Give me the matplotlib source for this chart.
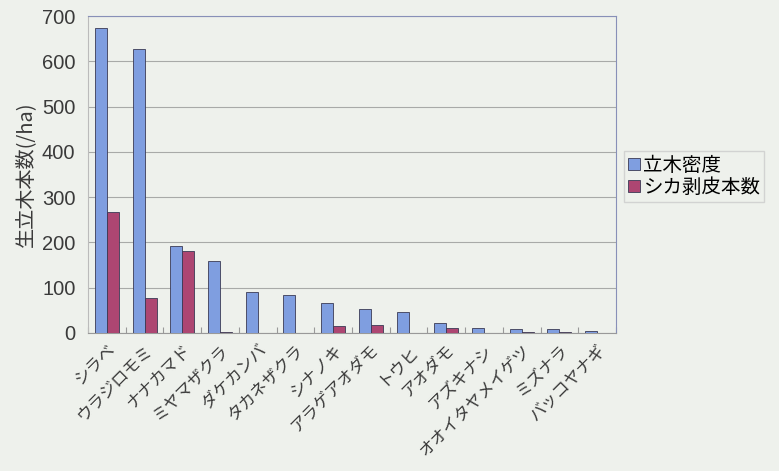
import matplotlib
matplotlib.use("Agg")
import matplotlib.pyplot as plt
import numpy as np

plt.rcParams['font.family'] = ['Noto Sans CJK JP', 'DejaVu Sans']

species = ["シラベ", "ウラジロモミ", "ナナカマド", "ミヤマザクラ", "ダケカンバ", "タカネザクラ",
           "シナノキ", "アラゲアオダモ", "トウヒ", "アオダモ", "アズキナシ", "オオイタヤメイゲツ",
           "ミズナラ", "バッコヤナギ"]
density = [674, 627, 192, 160, 91, 84, 66, 52, 47, 23, 10, 9, 8, 5]
debarked = [268, 78, 181, 2, 1, 0, 15, 17, 1, 10, 1, 3, 2, 1]
series_names = ["立木密度", "シカ剥皮本数"]
yticks = [0, 100, 200, 300, 400, 500, 600, 700]

bg = "#eef1ec"
fig = plt.figure(figsize=(7.79, 4.71), dpi=100, facecolor=bg)
ax = fig.add_axes([88/779, 1-333/471, (616-88)/779, (333-16)/471])
ax.set_facecolor(bg)

x = np.arange(len(species))
w = 0.32
ax.bar(x - w/2, density, w, color="#7f9ee0", edgecolor="#3a3a55", linewidth=0.6, label=series_names[0], zorder=3)
ax.bar(x + w/2, debarked, w, color="#ad4672", edgecolor="#3a3a55", linewidth=0.6, label=series_names[1], zorder=3)

ax.set_xlim(-0.5, len(species) - 0.5)
ax.set_ylim(0, 700)
ax.set_yticks(yticks)
ax.set_yticklabels([str(v) for v in yticks], fontsize=14.5, color="#3a3a3a", family='Liberation Sans')
ax.yaxis.grid(True, color="#a8aaa8", linewidth=0.8, zorder=0)
ax.tick_params(axis='y', length=0, pad=9)

ax.set_xticks(np.arange(len(species) + 1) - 0.5, minor=False)
ax.set_xticklabels([])
ax.tick_params(axis='x', length=4, direction='in', color="#999999")
ax.set_xticks(x, minor=True)
ax.set_xticklabels(species, minor=True, rotation=45, ha='right', rotation_mode='anchor',
                   fontsize=12, color="#3a3a3a")
ax.tick_params(axis='x', which='minor', length=0, pad=6)

for s in ['top', 'right']:
    ax.spines[s].set_color("#8890b8")
    ax.spines[s].set_linewidth(0.8)
ax.spines['left'].set_color("#bbbbbb")
ax.spines['bottom'].set_color("#999999")

ax.set_ylabel("生立木本数(/ha)", fontsize=14.5, color="#3a3a3a", labelpad=4)

leg = fig.legend(loc='upper left', bbox_to_anchor=(624/779, 1-151/471), fontsize=14,
                 frameon=True, fancybox=False, edgecolor="#cccccc", facecolor=bg,
                 handlelength=0.6, handleheight=0.6, handletextpad=0.2, borderpad=0.2,
                 labelspacing=0.05, borderaxespad=0)

fig.savefig("out.png", dpi=100, facecolor=bg)
